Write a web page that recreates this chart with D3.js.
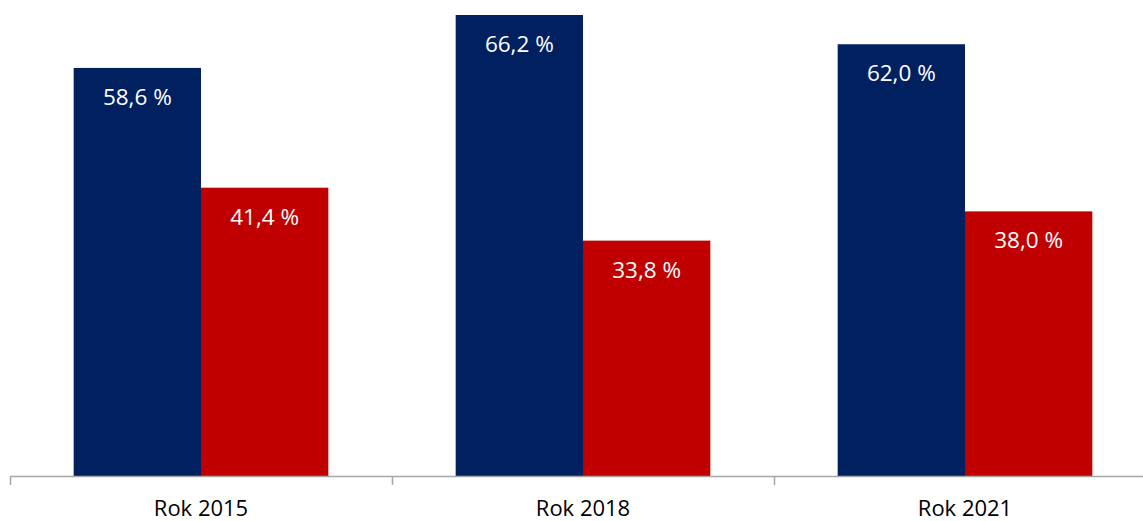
<!DOCTYPE html>
<html><head><meta charset="utf-8">
<script src="https://cdn.jsdelivr.net/npm/d3@7"></script>
<style>body{margin:0;background:#fff}svg{display:block}</style>
</head><body>
<svg id="c" width="1143" height="521"></svg>
<script>
const categories = ["Rok 2015", "Rok 2018", "Rok 2021"];
const seriesA = [58.6, 66.2, 62.0];
const seriesB = [41.4, 33.8, 38.0];
const labelsA = ["58,6 %", "66,2 %", "62,0 %"];
const labelsB = ["41,4 %", "33,8 %", "38,0 %"];
const colors = ["#002060", "#C00000"];

const svg = d3.select("#c");
const x0 = d3.scaleBand().domain(categories).range([10, 1156]).paddingInner(0).paddingOuter(0);
const x1 = d3.scaleBand().domain([0, 1]).range([0, x0.bandwidth()]).paddingOuter(0.5).paddingInner(0);
const y = d3.scaleLinear().domain([0, 66.2]).range([476, 15]);

const rows = categories.map((c, i) => ({c, vals: [seriesA[i], seriesB[i]], labs: [labelsA[i], labelsB[i]]}));
const g = svg.selectAll("g.grp").data(rows).join("g").attr("class", "grp")
  .attr("transform", d => `translate(${x0(d.c)},0)`);
g.selectAll("rect").data(d => d.vals.map((v, k) => ({v, k}))).join("rect")
  .attr("x", d => x1(d.k)).attr("width", x1.bandwidth())
  .attr("y", d => y(d.v)).attr("height", d => y(0) - y(d.v))
  .attr("fill", d => colors[d.k]);
g.selectAll("text.lab").data(d => d.vals.map((v, k) => ({v, k, t: d.labs[k]}))).join("text")
  .attr("class", "lab")
  .attr("x", d => x1(d.k) + x1.bandwidth() / 2)
  .attr("y", d => y(d.v) + 37)
  .attr("text-anchor", "middle").attr("fill", "#fff")
  .style("font-family", "'Open Sans', sans-serif").style("font-size", "22.5px")
  .text(d => d.t);

// axis
const ax = svg.append("g");
ax.append("line").attr("x1", 10).attr("x2", 1143).attr("y1", 476.5).attr("y2", 476.5)
  .attr("stroke", "#A6A6A6").attr("stroke-width", 1.5);
const ticks = categories.map(c => x0(c)).concat([x0.range()[1]]);
ax.selectAll("line.t").data(ticks).join("line").attr("class", "t")
  .attr("x1", d => d + 0.5).attr("x2", d => d + 0.5).attr("y1", 476).attr("y2", 485)
  .attr("stroke", "#A6A6A6").attr("stroke-width", 1.5);
ax.selectAll("text").data(categories).join("text")
  .attr("x", c => x0(c) + x0.bandwidth() / 2).attr("y", 516)
  .attr("text-anchor", "middle").attr("fill", "#000")
  .style("font-family", "'Open Sans', sans-serif").style("font-size", "22px")
  .text(c => c);
</script>
</body></html>
